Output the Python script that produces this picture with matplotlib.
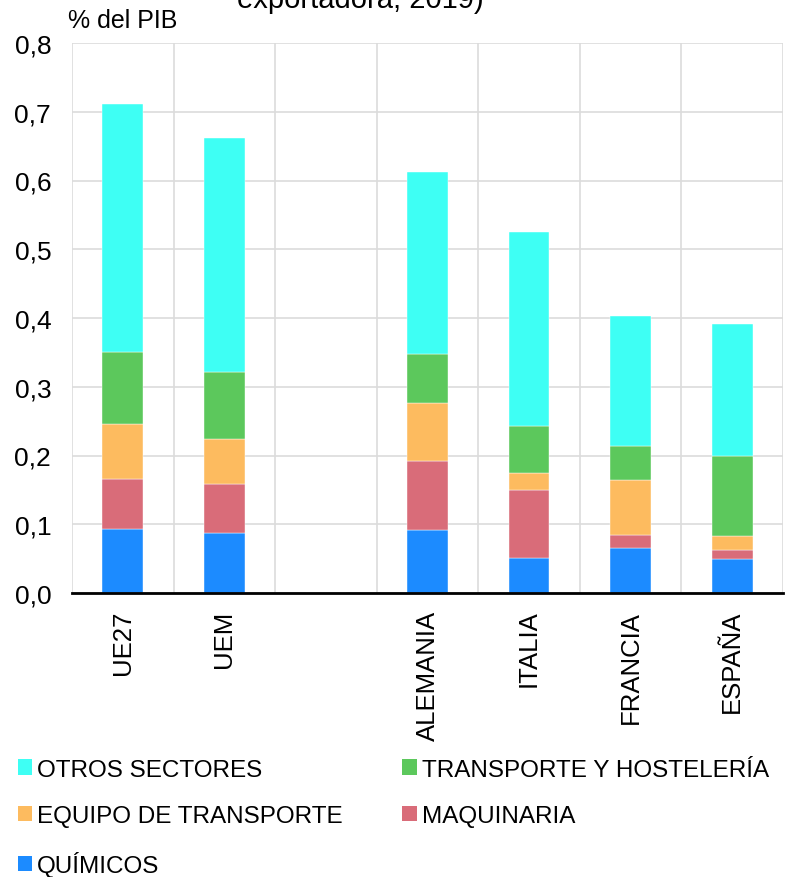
import numpy as np
import matplotlib.pyplot as plt
from matplotlib.patches import Patch
from matplotlib.ticker import FuncFormatter, MultipleLocator

plt.rcParams['font.family'] = ['Liberation Sans', 'DejaVu Sans']

# categories (blank slot between UEM and ALEMANIA)
categories = ['UE27', 'UEM', '', 'ALEMANIA', 'ITALIA', 'FRANCIA', 'ESPAÑA']

# values in % of GDP, bottom to top
quimicos = [0.093, 0.088, 0.0, 0.092, 0.051, 0.065, 0.049]
maquinaria = [0.073, 0.070, 0.0, 0.100, 0.099, 0.019, 0.014]
equipo_transporte = [0.080, 0.066, 0.0, 0.084, 0.024, 0.080, 0.020]
transporte_hosteleria = [0.104, 0.098, 0.0, 0.071, 0.069, 0.050, 0.117]
otros_sectores = [0.362, 0.340, 0.0, 0.266, 0.282, 0.189, 0.191]

series = [
    ('QUÍMICOS', quimicos, '#1c8bff'),
    ('MAQUINARIA', maquinaria, '#d96c79'),
    ('EQUIPO DE TRANSPORTE', equipo_transporte, '#fdbb5f'),
    ('TRANSPORTE Y HOSTELERÍA', transporte_hosteleria, '#5cc85c'),
    ('OTROS SECTORES', otros_sectores, '#3efff4'),
]

fig = plt.figure(figsize=(7.89, 8.78), dpi=100)
ax = fig.add_axes([72 / 789, 1 - 594 / 878, 711 / 789, 550 / 878])

x = np.arange(len(categories))
bottom = np.zeros(len(categories))
handles = {}
for name, vals, color in series:
    vals = np.array(vals)
    ax.bar(x, vals, width=0.4, bottom=bottom, color=color, zorder=3,
           edgecolor='white', linewidth=0.3)
    bottom += vals
    handles[name] = Patch(facecolor=color, edgecolor='none', label=name)

ax.set_xlim(-0.5, len(categories) - 0.5)
ax.set_ylim(0, 0.8)
ax.yaxis.set_major_locator(MultipleLocator(0.1))
ax.yaxis.set_major_formatter(FuncFormatter(lambda v, p: f'{v:.1f}'.replace('.', ',')))
ax.set_xticks(x)
ax.set_xticklabels(categories, rotation=90, fontsize=18.5)
ax.set_xticks(np.arange(-0.5, len(categories), 1.0), minor=True)
ax.tick_params(axis='both', which='both', length=0)
ax.tick_params(axis='y', labelsize=19, pad=15)
ax.tick_params(axis='x', pad=12)

ax.grid(axis='y', which='major', color='#dcdcdc', linewidth=1.2, zorder=0)
ax.grid(axis='x', which='minor', color='#dcdcdc', linewidth=1.2, zorder=0)
ax.grid(axis='x', which='major', visible=False)

for s in ['top', 'right', 'left']:
    ax.spines[s].set_visible(False)
ax.spines['bottom'].set_color('black')
ax.spines['bottom'].set_linewidth(2)
ax.spines['bottom'].set_zorder(4)

fig.text(68 / 789, 1 - 21 / 878, '% del PIB', fontsize=18, va='center', ha='left')
fig.text(360 / 789, 1 - 0 / 878, 'exportadora, 2019)', fontsize=21, va='center', ha='center')

order = ['OTROS SECTORES', 'EQUIPO DE TRANSPORTE', 'QUÍMICOS',
         'TRANSPORTE Y HOSTELERÍA', 'MAQUINARIA']
fig.legend([handles[n] for n in order], order, ncol=2, frameon=False,
           loc='upper left', bbox_to_anchor=(8 / 789, 1 - 750 / 878),
           fontsize=17.5, handlelength=0.6, handleheight=0.6,
           handletextpad=0.2, columnspacing=2.45, labelspacing=1.0,
           borderaxespad=0)

fig.savefig('out.png', dpi=100)
